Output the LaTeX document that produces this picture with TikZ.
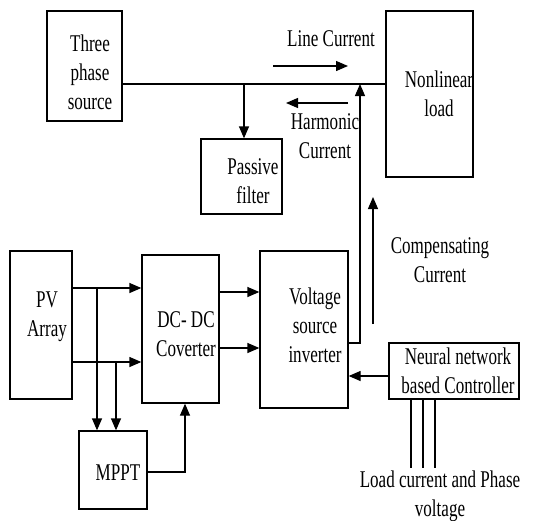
\documentclass[tikz,border=0pt]{standalone}
\usepackage{fontspec}
\setmainfont[FakeStretch=0.71]{Liberation Serif}
\usetikzlibrary{arrows.meta}
\begin{document}
\begin{tikzpicture}[x=1pt,y=-1pt,
  box/.style={draw,line width=1.3pt,inner sep=0pt,minimum width=#1},
  lbl/.style={align=center,inner sep=0pt,font=\fontsize{24}{29}\selectfont},
  ln/.style={line width=1.3pt},
  arr/.style={line width=1.3pt,-{Triangle[length=12pt,width=10pt]}}]
\useasboundingbox (0,0) rectangle (549,520);
% boxes
\node[box=75pt,minimum height=110pt] (src) at (84.5,66) {};
\node[box=87pt,minimum height=166pt] (load) at (429.5,94) {};
\node[box=81pt,minimum height=75pt] (filt) at (241.5,176.5) {};
\node[box=62pt,minimum height=148pt] (pv) at (41,325) {};
\node[box=77pt,minimum height=148pt] (dc) at (180.5,329) {};
\node[box=88pt,minimum height=157pt] (vsi) at (304,329.5) {};
\node[box=130pt,minimum height=56pt] (nn) at (454,371) {};
\node[box=68pt,minimum height=78pt] (mppt) at (113,470) {};
% labels
\node[lbl] (tsrc) at (90,72) {Three\\phase\\source};
\node[lbl] (tload) at (439,94) {Nonlinear\\load};
\node[lbl] (tfilt) at (253,181) {Passive\\filter};
\node[lbl] (tline) at (331,39) {Line Current};
\node[lbl] (tharm) at (325,136) {Harmonic\\Current};
\node[lbl] (tcomp) at (440,260.5) {Compensating\\Current};
\node[lbl] (tpv) at (47,316.5) {PV\\Array};
\node[lbl] (tdc) at (186,334) {DC- DC\\Coverter};
\node[lbl] (tvsi) at (315,325) {Voltage\\source\\inverter};
\node[lbl] (tnn) at (458,371) {Neural network\\based Controller};
\node[lbl] (tmppt) at (118,473) {MPPT};
\node[lbl] (tlv) at (440,496) {Load current and Phase\\voltage};
% coordinates
\coordinate (bus) at (0,84);
\coordinate (tapF) at (244,84);
\coordinate (lc1) at (273,66);
\coordinate (lc2) at (348,66);
\coordinate (hc1) at (348,103);
\coordinate (hc2) at (286,103);
\coordinate (cmp1) at (360,343);
\coordinate (cmp2) at (360,84);
\coordinate (ca1) at (373,324);
\coordinate (ca2) at (373,197);
\coordinate (b1) at (97,288);
\coordinate (b2) at (116,362);
\coordinate (mc) at (185,472);
\coordinate (lvend) at (0,468);
% connectors
\draw[ln] (src.east |- bus) -- (load.west |- bus);
\draw[arr] (tapF) -- (tapF |- filt.north);
\draw[arr] (lc1) -- (lc2);
\draw[arr] (hc1) -- (hc2);
\draw[arr] (vsi.east |- cmp1) -- (cmp1) -- (cmp2);
\draw[arr] (ca1) -- (ca2);
\draw[arr] (pv.east |- b1) -- (dc.west |- b1);
\draw[arr] (pv.east |- b2) -- (dc.west |- b2);
\draw[arr] (b1) -- (b1 |- mppt.north);
\draw[arr] (b2) -- (b2 |- mppt.north);
\draw[arr] (mppt.east |- mc) -- (mc) -- (mc |- dc.south);
\draw[arr] (dc.east |- 0,292) -- (vsi.west |- 0,292);
\draw[arr] (dc.east |- 0,348) -- (vsi.west |- 0,348);
\draw[arr] (nn.west |- 0,376) -- (vsi.east |- 0,376);
\foreach \xx in {411,423,435}
  \draw[ln] (nn.south -| \xx,0) -- (\xx,0 |- lvend);
\end{tikzpicture}
\end{document}
